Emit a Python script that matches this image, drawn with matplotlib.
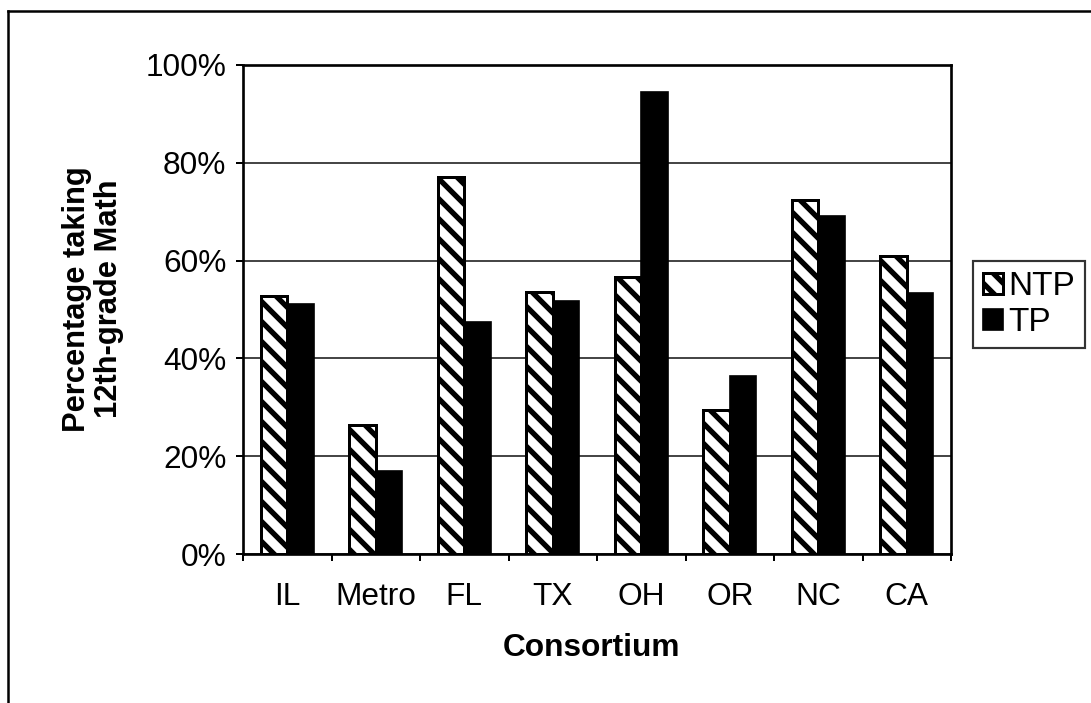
import numpy as np
import matplotlib
matplotlib.use("Agg")
import matplotlib.pyplot as plt
from matplotlib.lines import Line2D
from matplotlib.ticker import PercentFormatter

# data
consortia = ['IL', 'Metro', 'FL', 'TX', 'OH', 'OR', 'NC', 'CA']
ntp = [52.8, 26.4, 77.0, 53.5, 56.7, 29.4, 72.4, 61.0]
tp = [51.1, 17.0, 47.5, 51.8, 94.5, 36.5, 69.2, 53.4]
yticks = [0, 20, 40, 60, 80, 100]

plt.rcParams['font.family'] = ['Liberation Sans', 'DejaVu Sans']
plt.rcParams['hatch.linewidth'] = 3.2
plt.rcParams['hatch.color'] = 'black'

W, H = 1091, 703
DPI = 120
fig = plt.figure(figsize=(W / DPI, H / DPI), dpi=DPI)
ax = fig.add_axes([243 / W, 1 - 554 / H, (951 - 243) / W, (554 - 65) / H])

x = np.arange(len(consortia))
bw = 0.3
ax.bar(x - bw, ntp, width=bw, align='edge', facecolor='white', edgecolor='black',
       linewidth=1.8, hatch='\\\\', label='NTP', zorder=2)
ax.bar(x, tp, width=bw, align='edge', color='black', edgecolor='black',
       linewidth=1.0, label='TP', zorder=2)

ax.set_xlim(-0.5, len(consortia) - 0.5)
ax.set_ylim(0, 100)
ax.set_yticks(yticks)
ax.yaxis.set_major_formatter(PercentFormatter(decimals=0))
ax.set_xticks(x)
ax.set_xticklabels(consortia)
ax.set_xticks(np.arange(len(consortia) + 1) - 0.5, minor=True)
ax.tick_params(axis='x', which='major', length=0, pad=17, labelsize=19)
ax.tick_params(axis='x', which='minor', length=4, width=1.2, direction='out')
ax.tick_params(axis='y', length=4, width=1.2, direction='out', pad=6, labelsize=19)

ax.grid(axis='y', color='#222222', linewidth=1.0)
ax.set_axisbelow(True)
for s in ax.spines.values():
    s.set_linewidth(1.6)
    s.set_color('black')

fig.text(93 / W, 1 - 299 / H, 'Percentage taking\n12th-grade Math', rotation=90,
         ha='center', va='center', multialignment='center', fontsize=18.5,
         fontweight='bold', linespacing=1.05)
fig.text(592 / W, 1 - 648 / H, 'Consortium', ha='center', va='center',
         fontsize=19, fontweight='bold')

leg = fig.legend(loc='upper left', bbox_to_anchor=(973 / W, 1 - 261 / H),
                 fontsize=20, frameon=True, fancybox=False, edgecolor='black',
                 handlelength=0.6, handleheight=0.6, handletextpad=0.15,
                 borderpad=0.3, labelspacing=0.15, borderaxespad=0)
leg.get_frame().set_linewidth(1.3)

# outer border of the scanned figure
fig.add_artist(Line2D([8 / W, 8 / W], [0, 1 - 11 / H], color='black', linewidth=1.5,
                      transform=fig.transFigure))
fig.add_artist(Line2D([8 / W, 1], [1 - 11 / H, 1 - 11 / H], color='black', linewidth=1.5,
                      transform=fig.transFigure))

fig.savefig('out.png', dpi=DPI)
